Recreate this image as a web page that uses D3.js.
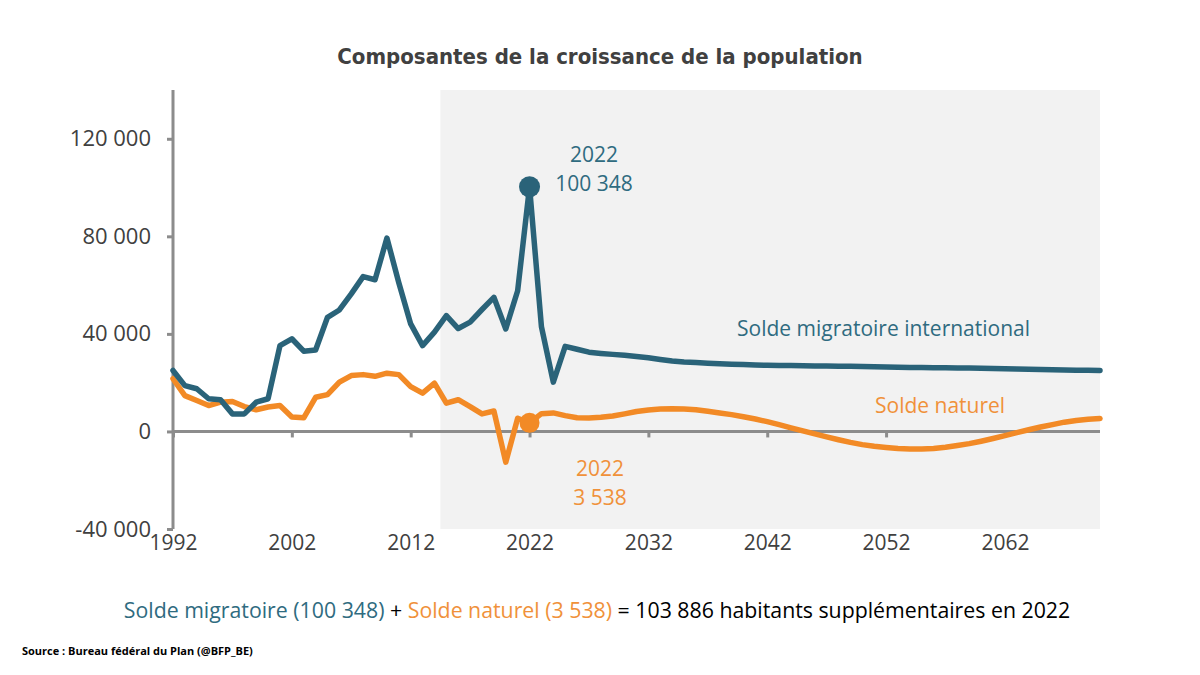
<!DOCTYPE html>
<html>
<head>
<meta charset="utf-8">
<script src="https://cdn.jsdelivr.net/npm/d3@7/dist/d3.min.js"></script>
<style>
  html, body { margin: 0; padding: 0; background: #fff; }
  svg { display: block; }
</style>
</head>
<body>
<svg id="chart" width="1200" height="675"></svg>
<script>
// ---------- DATA ----------
const years = d3.range(1992, 2071);
const migration = [
  25000, 18800, 17500, 13400, 13000, 7200, 7200, 12000, 13400, 35200,
  38000, 32900, 33400, 46800, 49800, 56400, 63500, 62200, 79300, 61000,
  44100, 35200, 40700, 47500, 42200, 44800, 50000, 55000, 42000, 57700,
  100348, 43000, 20200, 34900, 33700, 32500, 32000, 31600, 31200, 30700,
  30200, 29500, 28900, 28500, 28300, 28000, 27800, 27600, 27400, 27200,
  27100, 27000, 27000, 26900, 26800, 26800, 26700, 26700, 26600, 26500,
  26400, 26300, 26200, 26200, 26100, 26100, 26000, 26000, 25900, 25800,
  25700, 25600, 25500, 25400, 25300, 25200, 25100, 25100, 25000
];
const natural = [
  21600, 14700, 12700, 10600, 12000, 12300, 10200, 8900, 10000, 10600,
  5900, 5600, 14000, 15100, 20200, 22900, 23300, 22600, 23900, 23300,
  18400, 15700, 19800, 11600, 13000, 10200, 7200, 8400, -12600, 5400,
  3538, 7300, 7600, 6500, 5600, 5500, 5800, 6300, 7200, 8200,
  8800, 9200, 9300, 9200, 8900, 8300, 7600, 6900, 6000, 5100,
  4000, 2800, 1500, 200, -1000, -2200, -3400, -4500, -5400, -6100,
  -6600, -7000, -7200, -7200, -7000, -6500, -5800, -5000, -4000, -2900,
  -1700, -500, 700, 1800, 2800, 3800, 4500, 5000, 5300
];
const xTicks = [1992, 2002, 2012, 2022, 2032, 2042, 2052, 2062];
const yTicks = [-40000, 0, 40000, 80000, 120000];
const yDomain = [-40000, 140000];
const projectionStart = 2014.5;
const highlightYear = 2022;
const title = "Composantes de la croissance de la population";
const seriesNames = ["Solde migratoire international", "Solde naturel"];
const source = "Source : Bureau fédéral du Plan (@BFP_BE)";

// ---------- LAYOUT ----------
const svg = d3.select("#chart");
const pL = 173, pR = 1100, pT = 90, pB = 529;
const BLUE = "#2a6379", ORANGE = "#f28a26";
const BLUE_T = "#2f6b80", ORANGE_T = "#f0913a";
const GREY = "#8c8c8c", TXT = "#404040";
const FONT = "'Open Sans', sans-serif";

const x = d3.scaleLinear().domain([1992, 2070]).range([pL, pR]);
const y = d3.scaleLinear().domain(yDomain).range([pB, pT]);

const fmt = v => d3.format(",")(v).replace(/,/g, " ").replace("\u2212", "-");

// shaded projection area
svg.append("rect")
  .attr("x", x(projectionStart)).attr("y", pT)
  .attr("width", x(2070) - x(projectionStart)).attr("height", pB - pT)
  .attr("fill", "#f2f2f2");

// Title
svg.append("text").attr("x", 600).attr("y", 64)
  .attr("text-anchor", "middle")
  .attr("font-family", "'DejaVu Sans Condensed', 'DejaVu Sans', sans-serif")
  .attr("font-weight", "bold").attr("font-size", 22)
  .attr("fill", TXT).text(title);

// Y axis
const yAxis = svg.append("g").attr("transform", `translate(${pL},0)`)
  .call(d3.axisLeft(y).tickValues(yTicks).tickSize(6).tickPadding(16)
    .tickFormat(fmt));
yAxis.select(".domain").attr("stroke", GREY).attr("stroke-width", 3)
  .attr("d", `M0,${pT}V${pB}`);
yAxis.selectAll(".tick line").attr("stroke", GREY).attr("stroke-width", 3);
yAxis.selectAll(".tick text").attr("font-family", FONT).attr("font-size", 22)
  .attr("fill", TXT);

// Zero line with ticks
const zAxis = svg.append("g").attr("transform", `translate(0,${y(0)})`)
  .call(d3.axisBottom(x).tickValues(xTicks).tickSize(6).tickFormat(""));
zAxis.select(".domain").attr("stroke", GREY).attr("stroke-width", 3)
  .attr("d", `M${pL},0H${pR}`);
zAxis.selectAll(".tick line").attr("stroke", GREY).attr("stroke-width", 3);

// X labels at the bottom
const xLab = svg.append("g").attr("transform", `translate(0,${pB})`)
  .call(d3.axisBottom(x).tickValues(xTicks).tickSize(0).tickPadding(6)
    .tickFormat(d3.format("d")));
xLab.select(".domain").remove();
xLab.selectAll(".tick text").attr("font-family", FONT).attr("font-size", 21)
  .attr("fill", TXT);

// Lines
const line = d3.line().x((d, i) => x(years[i])).y(d => y(d));
svg.append("path").datum(natural).attr("d", line)
  .attr("fill", "none").attr("stroke", ORANGE).attr("stroke-width", 5.5)
  .attr("stroke-linejoin", "round").attr("stroke-linecap", "round");
svg.append("path").datum(migration).attr("d", line)
  .attr("fill", "none").attr("stroke", BLUE).attr("stroke-width", 5.5)
  .attr("stroke-linejoin", "round").attr("stroke-linecap", "round");

// Markers
const hi = years.indexOf(highlightYear);
svg.append("circle").attr("cx", x(highlightYear)).attr("cy", y(migration[hi]))
  .attr("r", 10.5).attr("fill", BLUE);
svg.append("circle").attr("cx", x(highlightYear)).attr("cy", y(natural[hi]))
  .attr("r", 10).attr("fill", ORANGE);

// Annotations
function txt(tx, ty, s, col, anchor = "start") {
  svg.append("text").attr("x", tx).attr("y", ty).attr("text-anchor", anchor)
    .attr("font-family", FONT).attr("font-size", 21).attr("fill", col).text(s);
}
txt(594, 162, String(highlightYear), BLUE_T, "middle");
txt(594, 191, fmt(migration[hi]), BLUE_T, "middle");
txt(600, 476, String(highlightYear), ORANGE_T, "middle");
txt(600, 505, fmt(natural[hi]), ORANGE_T, "middle");
txt(737, 336, seriesNames[0], BLUE_T);
txt(875, 413, seriesNames[1], ORANGE_T);

// Bottom sentence
const total = migration[hi] + natural[hi];
const bt = svg.append("text").attr("x", 597).attr("y", 618).attr("text-anchor", "middle")
  .attr("font-family", FONT).attr("font-size", 21.3);
bt.append("tspan").attr("fill", BLUE_T).text(`Solde migratoire (${fmt(migration[hi])})`);
bt.append("tspan").attr("fill", "#000").text(" + ");
bt.append("tspan").attr("fill", ORANGE_T).text(`Solde naturel (${fmt(natural[hi])})`);
bt.append("tspan").attr("fill", "#000").text(` = ${fmt(total)} habitants supplémentaires en ${highlightYear}`);

// Source
svg.append("text").attr("x", 22).attr("y", 655)
  .attr("font-family", FONT).attr("font-weight", "bold").attr("font-size", 11)
  .attr("fill", "#000").text(source);
</script>
</body>
</html>
